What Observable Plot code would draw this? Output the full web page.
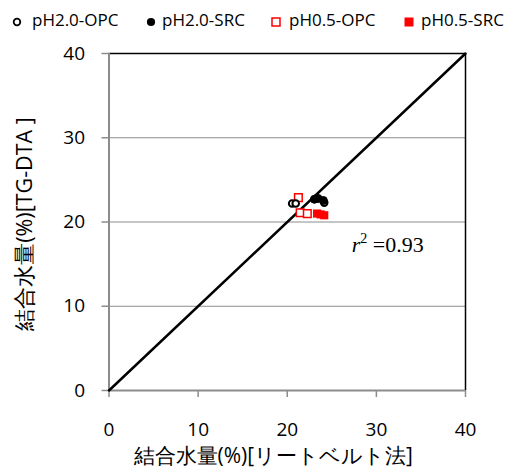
<!DOCTYPE html>
<html><head><meta charset="utf-8">
<script src="https://cdn.jsdelivr.net/npm/d3@7"></script>
<script src="https://cdn.jsdelivr.net/npm/@observablehq/plot@0.6"></script>
<style>
body{margin:0;background:#fff;font-family:"Open Sans",sans-serif;}
#wrap{position:relative;width:527px;height:475px;}
#legend{position:absolute;left:0;top:0;width:527px;height:36px;}
.item{position:absolute;top:0;height:36px;font-size:17px;color:#000;white-space:nowrap;}
.item svg{position:absolute;left:0;top:15px;}
.item span{position:absolute;top:8px;line-height:24px;}
#chart{position:absolute;left:0;top:36px;}
</style></head>
<body><div id="wrap"><div id="legend"></div><div id="chart"></div></div>
<script>
const seriesNames = ["pH2.0-OPC", "pH2.0-SRC", "pH0.5-OPC", "pH0.5-SRC"];
const opcH20X = [20.55, 20.95, 24.15];
const opcH20Y = [22.2, 22.2, 22.3];
const srcH20X = [23.05, 23.45, 24.05];
const srcH20Y = [22.7, 22.8, 22.55];
const opcH05X = [21.25, 21.45, 22.25];
const opcH05Y = [22.9, 21.1, 21.0];
const srcH05X = [23.35, 23.75, 24.15];
const srcH05Y = [21.0, 20.9, 20.8];
const lineX = [0, 40];
const lineY = [0, 40];
const ticks = [0, 10, 20, 30, 40];
const gridY = [10, 20, 30];
const xLabel = "結合水量(%)[リートベルト法]";
const yLabel = "結合水量(%)[TG-DTA ]";
const r2Value = "0.93";

const toRows = (xs, ys) => xs.map((x, i) => ({x, y: ys[i]}));
const line = toRows(lineX, lineY);

// legend
const legendPos = [[10, 32], [144, 162], [269, 289], [402, 421]];
const legendSym = [
  '<svg width="14" height="14"><circle cx="7" cy="7" r="3.3" fill="white" stroke="black" stroke-width="1.8"/></svg>',
  '<svg width="14" height="14"><circle cx="7" cy="7" r="4.1" fill="black"/></svg>',
  '<svg width="14" height="14"><rect x="3" y="3" width="8" height="8" fill="white" stroke="red" stroke-width="1.5"/></svg>',
  '<svg width="14" height="14"><rect x="2.5" y="2.5" width="9" height="9" fill="red"/></svg>'
];
const leg = document.getElementById("legend");
seriesNames.forEach((n, i) => {
  const s = document.createElement("div");
  s.className = "item"; s.style.left = legendPos[i][0] + "px";
  s.innerHTML = legendSym[i];
  const t = document.createElement("span");
  t.textContent = n; t.style.left = (legendPos[i][1] - legendPos[i][0]) + "px";
  s.appendChild(t);
  leg.appendChild(s);
});

const gray = "#8c8c8c";
const chart = Plot.plot({
  width: 527, height: 439,
  marginLeft: 108.5, marginRight: 62, marginTop: 17, marginBottom: 85,
  style: {fontFamily: "'Open Sans', sans-serif", fontSize: "19px", background: "white", color: "black"},
  x: {domain: [0, 40]},
  y: {domain: [0, 40]},
  marks: [
    Plot.ruleY(gridY, {stroke: gray, strokeWidth: 1}),
    Plot.ruleX([40], {stroke: "black", strokeWidth: 1.5}),
    Plot.ruleY([40], {stroke: "black", strokeWidth: 1.5}),
    Plot.ruleX([0], {stroke: gray, strokeWidth: 2}),
    Plot.ruleY([0], {stroke: gray, strokeWidth: 2}),
    Plot.axisY({ticks, tickSize: 7, tickPadding: 17, stroke: gray, strokeWidth: 1.5, label: null, tickFormat: d => d, fill: "black"}),
    Plot.axisX({ticks, tickSize: 7, tickPadding: 25, stroke: gray, strokeWidth: 1.5, label: null, tickFormat: d => d, fill: "black"}),
    Plot.line(line, {x: "x", y: "y", stroke: "black", strokeWidth: 2.5}),
    Plot.dot(toRows(opcH05X, opcH05Y), {x: "x", y: "y", symbol: "square", r: 4.3, fill: "white", stroke: "red", strokeWidth: 1.5}),
    Plot.dot(toRows(srcH05X, srcH05Y), {x: "x", y: "y", symbol: "square", r: 4.6, fill: "red", stroke: "none"}),
    Plot.dot(toRows(opcH20X, opcH20Y), {x: "x", y: "y", r: 3.3, fill: "white", stroke: "black", strokeWidth: 2}),
    Plot.dot(toRows(srcH20X, srcH20Y), {x: "x", y: "y", r: 4, fill: "black", stroke: "black", strokeWidth: 1}),
    Plot.text([xLabel], {frameAnchor: "bottom", dx: -14, dy: 72, text: d => d, fontSize: 21, textAnchor: "middle"}),
    Plot.text([yLabel], {frameAnchor: "left", dx: -84, dy: 2, rotate: -90, text: d => d, fontSize: 21.5, textAnchor: "middle"})
  ]
});
document.getElementById("chart").appendChild(chart);

// r^2 annotation placed through the Plot scales
const sx = chart.scale("x"), sy = chart.scale("y");
const svg = d3.select(chart);
const r2 = svg.append("text")
  .attr("x", sx.apply(27.3)).attr("y", sy.apply(16.4))
  .attr("text-anchor", "start")
  .attr("font-family", "'Liberation Serif', serif").attr("font-size", 22).attr("fill", "black");
r2.append("tspan").attr("font-style", "italic").text("r");
r2.append("tspan").attr("font-size", 14).attr("dy", -9).text("2");
r2.append("tspan").attr("dy", 9).text(" =" + r2Value);
</script></body></html>
